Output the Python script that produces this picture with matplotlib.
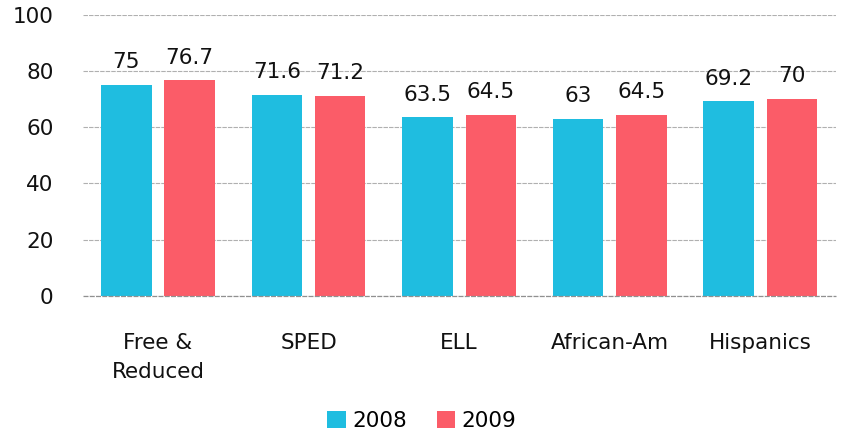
import matplotlib.pyplot as plt
import numpy as np

categories = ["Free &\nReduced", "SPED", "ELL", "African-Am", "Hispanics"]
values_2008 = [75, 71.6, 63.5, 63, 69.2]
values_2009 = [76.7, 71.2, 64.5, 64.5, 70]
labels_2008 = ["75", "71.6", "63.5", "63", "69.2"]
labels_2009 = ["76.7", "71.2", "64.5", "64.5", "70"]
yticks = [0, 20, 40, 60, 80, 100]

c2008 = "#1fbde0"
c2009 = "#fb5c68"
fs = 15.5

fig = plt.figure(figsize=(8.44, 4.48), dpi=100)
ax = fig.add_axes([0.098, 0.34, 0.892, 0.627])

x = np.arange(len(categories))
w = 0.335
off = 0.21
b1 = ax.bar(x - off, values_2008, w, color=c2008, label="2008", zorder=2)
b2 = ax.bar(x + off, values_2009, w, color=c2009, label="2009", zorder=2)

for rect, lab in zip(b1, labels_2008):
    ax.text(rect.get_x() + rect.get_width() / 2, rect.get_height() + 4.5, lab,
            ha="center", va="bottom", fontsize=fs, color="#111111")
for rect, lab in zip(b2, labels_2009):
    ax.text(rect.get_x() + rect.get_width() / 2, rect.get_height() + 4.5, lab,
            ha="center", va="bottom", fontsize=fs, color="#111111")

ax.set_xlim(-0.5, 4.5)
ax.set_ylim(0, 100)
ax.set_yticks(yticks)
ax.set_yticklabels([str(t) for t in yticks], fontsize=fs)
ax.yaxis.grid(True, color="#b0b0b0", linestyle=(0, (4, 1)), linewidth=0.8, zorder=0)
# gridline at 0 sits on the axes edge, draw it unclipped
ax.axhline(0, color="#909090", linestyle=(0, (4, 1)), linewidth=0.9, zorder=3, clip_on=False)
ax.set_xticks(x)
ax.set_xticklabels(categories, fontsize=fs, va="top", linespacing=1.55)
ax.tick_params(axis="both", length=0, colors="#111111")
ax.tick_params(axis="x", pad=27)
ax.tick_params(axis="y", pad=21)
for s in ax.spines.values():
    s.set_visible(False)

fig.legend(handles=[b1, b2], loc="lower center", bbox_to_anchor=(0.5, -0.005),
           ncol=2, frameon=False, fontsize=fs, handlelength=0.85, handleheight=0.85,
           handletextpad=0.3, columnspacing=1.4)

fig.savefig("out.png", dpi=100)
